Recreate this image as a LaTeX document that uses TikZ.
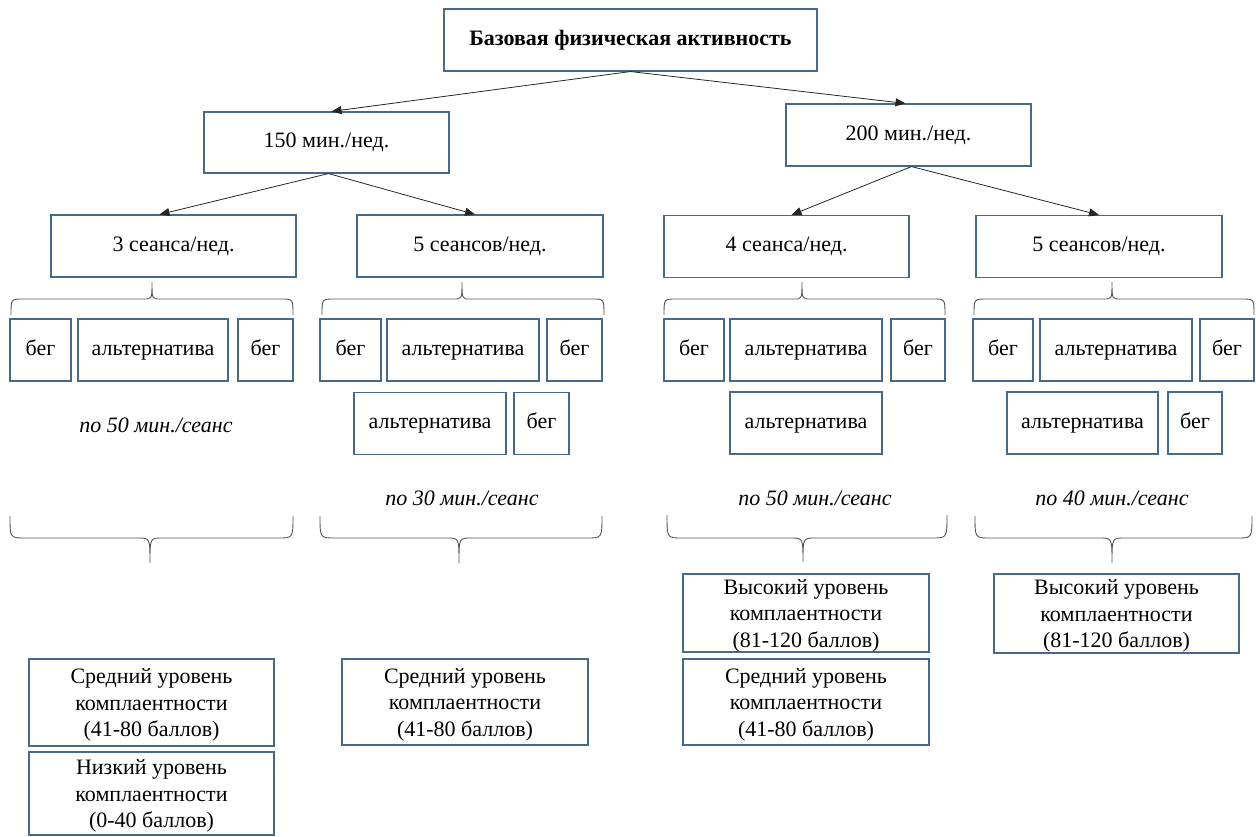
\documentclass[tikz,border=0pt]{standalone}
\usepackage{fontspec}
\setmainfont{LiberationSerif}[Extension=.ttf, UprightFont=*-Regular, BoldFont=*-Bold, ItalicFont=*-Italic, BoldItalicFont=*-BoldItalic]
\usetikzlibrary{arrows.meta}

\definecolor{boxline}{RGB}{70,105,140}
\definecolor{braceline}{RGB}{85,85,85}

\begin{document}
\begin{tikzpicture}[x=1pt, y=-1pt,
		box/.style={draw=boxline, line width=1.1pt, inner sep=0pt, align=center, font=\fontsize{22}{26.5}\selectfont},
		cell/.style={box, minimum height=62pt, text height=15pt, text depth=5pt},
		level/.style={box, text depth=-6pt},
		link/.style={draw=black!85, line width=0.8pt, -{Triangle[length=10pt, width=8pt]}},
		brace/.style={draw=braceline, line width=0.9pt},
		note/.style={font=\fontsize{22}{26}\selectfont\itshape}]
	\useasboundingbox (0, 0) rectangle (1256, 836);

	% top and minutes per week
	\node (base) at (630.5, 40) [box, minimum width=373pt, minimum height=62pt, font=\fontsize{22}{26}\selectfont\bfseries] {Базовая физическая активность};
	\node (w150) at (326.5, 142.5) [cell, minimum width=245pt, minimum height=61pt] {150 мин./нед.};
	\node (w200) at (908.5, 135) [cell, minimum width=245pt] {200 мин./нед.};

	% sessions per week
	\node (s3) at (173.5, 246) [cell, minimum width=245pt] {3 сеанса/нед.};
	\node (s5a) at (480, 246) [cell, minimum width=246pt] {5 сеансов/нед.};
	\node (s4) at (786.5, 246.5) [cell, minimum width=245pt] {4 сеанса/нед.};
	\node (s5b) at (1099, 246.5) [cell, minimum width=246pt] {5 сеансов/нед.};

	\draw [link] (base.south) -- ([xshift=5pt]w150.north);
	\draw [link] (base.south) -- ([xshift=-3pt]w200.north);
	\draw [link] ([xshift=2pt]w150.south) -- ([xshift=-14pt]s3.north);
	\draw [link] ([xshift=2pt]w150.south) -- ([xshift=-5pt]s5a.north);
	\draw [link] ([xshift=3pt]w200.south) -- ([xshift=5pt]s4.north);
	\draw [link] ([xshift=3pt]w200.south) -- (s5b.north);

	% 3 sessions
	\node (a1) at (40.5, 350) [cell, minimum width=61pt] {бег};
	\node (a2) at (153, 350) [cell, minimum width=150pt] {альтернатива};
	\node (a3) at (265.5, 350) [cell, minimum width=55pt] {бег};

	% 5 sessions, 150 min
	\node (b1) at (350.5, 350) [cell, minimum width=61pt] {бег};
	\node (b2) at (463, 350) [cell, minimum width=152pt] {альтернатива};
	\node (b3) at (574.5, 350) [cell, minimum width=55pt] {бег};
	\node (b4) at (430, 423.5) [cell, minimum width=152pt] {альтернатива};
	\node (b5) at (541.5, 423.5) [cell, minimum width=55pt] {бег};

	% 4 sessions
	\node (c1) at (694, 350) [cell, minimum width=60pt] {бег};
	\node (c2) at (806, 350) [cell, minimum width=152pt] {альтернатива};
	\node (c3) at (918, 350) [cell, minimum width=54pt] {бег};
	\node (c4) at (806, 423) [cell, minimum width=152pt] {альтернатива};

	% 5 sessions, 200 min
	\node (d1) at (1003, 350) [cell, minimum width=60pt] {бег};
	\node (d2) at (1116, 350) [cell, minimum width=152pt] {альтернатива};
	\node (d3) at (1227, 350) [cell, minimum width=54pt] {бег};
	\node (d4) at (1082.5, 423) [cell, minimum width=151pt] {альтернатива};
	\node (d5) at (1195, 423) [cell, minimum width=54pt] {бег};

	\draw [brace] (11, 315) .. controls (11, 299) .. (23, 299) -- (144, 299) .. controls (152, 299) .. (152, 282) .. controls (152, 299) .. (160, 299) -- (281, 299) .. controls (293, 299) .. (293, 315);
	\draw [brace] (322, 315) .. controls (322, 299) .. (334, 299) -- (454, 299) .. controls (462, 299) .. (462, 282) .. controls (462, 299) .. (470, 299) -- (592, 299) .. controls (604, 299) .. (604, 315);
	\draw [brace] (664, 315) .. controls (664, 299) .. (676, 299) -- (794, 299) .. controls (802, 299) .. (802, 282) .. controls (802, 299) .. (810, 299) -- (933, 299) .. controls (945, 299) .. (945, 315);
	\draw [brace] (974, 315) .. controls (974, 299) .. (986, 299) -- (1104, 299) .. controls (1112, 299) .. (1112, 282) .. controls (1112, 299) .. (1120, 299) -- (1242, 299) .. controls (1254, 299) .. (1254, 315);

	% minutes per session
	\node (t3) at (156, 425) [note] {по 50 мин./сеанс};
	\node (t5a) at (462, 498) [note] {по 30 мин./сеанс};
	\node (t4) at (815, 498) [note] {по 50 мин./сеанс};
	\node (t5b) at (1112, 498) [note] {по 40 мин./сеанс};

	\draw [brace] (10, 516) .. controls (10, 538) .. (25, 538) -- (138, 538) .. controls (150, 538) .. (150, 563) .. controls (150, 538) .. (162, 538) -- (278, 538) .. controls (293, 538) .. (293, 516);
	\draw [brace] (320, 516) .. controls (320, 538) .. (335, 538) -- (447, 538) .. controls (459, 538) .. (459, 563) .. controls (459, 538) .. (471, 538) -- (587, 538) .. controls (602, 538) .. (602, 516);
	\draw [brace] (667, 515) .. controls (667, 538) .. (682, 538) -- (791, 538) .. controls (803, 538) .. (803, 562) .. controls (803, 538) .. (815, 538) -- (932, 538) .. controls (947, 538) .. (947, 515);
	\draw [brace] (975, 516) .. controls (975, 538) .. (990, 538) -- (1100, 538) .. controls (1112, 538) .. (1112, 563) .. controls (1112, 538) .. (1124, 538) -- (1237, 538) .. controls (1252, 538) .. (1252, 516);

	% compliance levels
	\node (r3mid) at (151.5, 702.5) [level, minimum width=245pt, minimum height=87pt] {Средний уровень\\комплаентности\\(41-80 баллов)};
	\node (r3low) at (151.5, 793.5) [level, minimum width=245pt, minimum height=83pt] {Низкий уровень\\комплаентности\\(0-40 баллов)};
	\node (r5mid) at (465, 702) [level, minimum width=246pt, minimum height=86pt] {Средний уровень\\комплаентности\\(41-80 баллов)};
	\node (r4hi) at (806, 613) [level, minimum width=246pt, minimum height=78pt] {Высокий уровень\\комплаентности\\(81-120 баллов)};
	\node (r4mid) at (806, 702) [level, minimum width=246pt, minimum height=86pt] {Средний уровень\\комплаентности\\(41-80 баллов)};
	\node (r5hi) at (1116.5, 613.5) [level, minimum width=245pt, minimum height=79pt] {Высокий уровень\\комплаентности\\(81-120 баллов)};
\end{tikzpicture}
\end{document}
